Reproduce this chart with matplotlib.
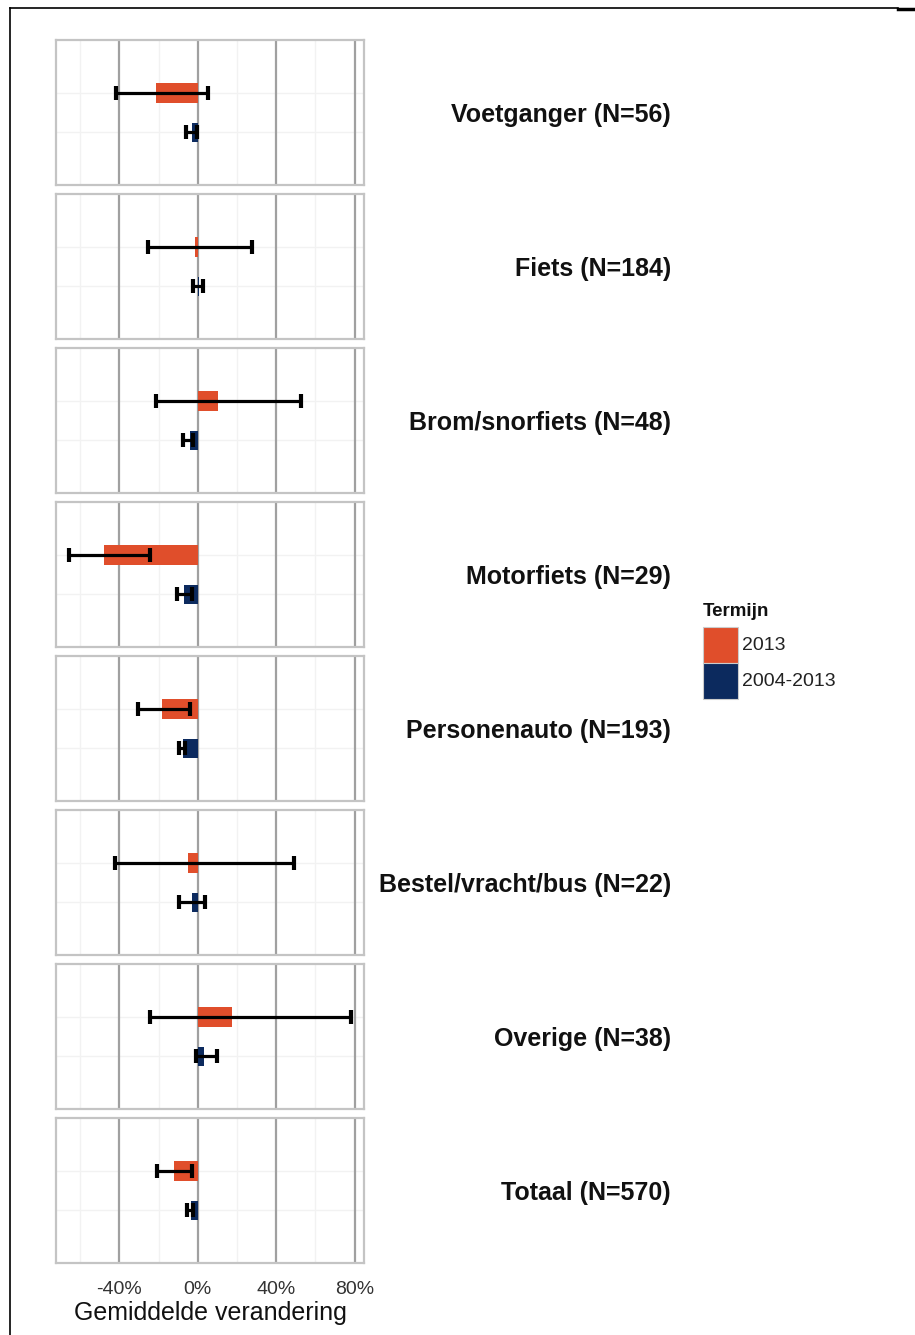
import matplotlib.pyplot as plt
from matplotlib.lines import Line2D
from matplotlib.patches import Rectangle

# data (percent change)
categories = ['Voetganger (N=56)', 'Fiets (N=184)', 'Brom/snorfiets (N=48)',
              'Motorfiets (N=29)', 'Personenauto (N=193)',
              'Bestel/vracht/bus (N=22)', 'Overige (N=38)', 'Totaal (N=570)']
terms = ['2013', '2004-2013']
mean_2013 = [-21.3, -1.2, 10.3, -47.8, -18.0, -5.1, 17.3, -12.3]
lo_2013 = [-41.7, -25.2, -21.3, -65.5, -30.3, -42.3, -24.3, -20.6]
hi_2013 = [5.4, 27.6, 52.9, -24.3, -3.9, 49.3, 78.1, -3.1]
mean_long = [-3.1, 0.4, -4.0, -7.0, -7.3, -3.1, 3.4, -3.6]
lo_long = [-6.1, -2.2, -7.7, -10.7, -9.4, -9.4, -0.9, -5.6]
hi_long = [-0.5, 2.6, -2.2, -3.1, -6.5, 3.7, 9.7, -2.6]
xticks = [-40, 0, 40, 80]
xtick_labels = ['-40%', '0%', '40%', '80%']

colors = ['#E04E2B', '#0C2A5E']

plt.rcParams['font.family'] = ['Liberation Sans', 'DejaVu Sans']

W, H = 915, 1335
fig = plt.figure(figsize=(W / 100, H / 100), dpi=100)

left, right = 56, 364
top0, ph, step = 40, 145, 154

for i, cat in enumerate(categories):
    top = top0 + step * i
    ax = fig.add_axes([left / W, 1 - (top + ph) / H, (right - left) / W, ph / H])
    means = [mean_2013[i], mean_long[i]]
    los = [lo_2013[i], lo_long[i]]
    his = [hi_2013[i], hi_long[i]]
    rows = [0, 1]
    ax.set_xlim(-72.3, 84.8)
    ax.set_ylim(2.33, -1.34)
    # grid
    for v in [-60, -20, 20, 60]:
        ax.axvline(v, color='#F2F2F2', lw=1, zorder=0)
    for r in rows:
        ax.axhline(r, color='#F2F2F2', lw=1, zorder=0)
    for v in xticks:
        ax.axvline(v, color='#A0A0A0', lw=1.6, zorder=0.5)
    ax.barh(rows, means, height=0.5, color=colors, zorder=2)
    ax.errorbar(means, rows,
                xerr=[[m - l for m, l in zip(means, los)],
                      [h - m for m, h in zip(means, his)]],
                fmt='none', ecolor='black', elinewidth=2.3,
                capsize=5, capthick=3, zorder=3)
    ax.set_yticks([])
    ax.set_xticks(xticks)
    ax.tick_params(axis='x', length=0, pad=13, labelsize=14, labelcolor='#333333')
    if i < len(categories) - 1:
        ax.set_xticklabels([])
    else:
        ax.set_xticklabels(xtick_labels)
        ax.set_xlabel('Gemiddelde verandering', fontsize=18, color='#111111', labelpad=2)
    for s in ax.spines.values():
        s.set_color('#C4C4C4')
        s.set_linewidth(1.6)
    ax.text((671 - left) / (right - left), 0.485, cat, transform=ax.transAxes,
            ha='right', va='center', fontsize=18, fontweight='bold', color='#111111')

# legend
fig.text(703 / W, 1 - 611 / H, 'Termijn', fontsize=13.5, fontweight='bold',
         ha='left', va='center', color='#111111')
for k, (t, c) in enumerate(zip(terms, colors)):
    y0 = 627 + 36 * k
    fig.add_artist(Rectangle((703 / W, 1 - (y0 + 36) / H), 35 / W, 36 / H,
                             transform=fig.transFigure, facecolor=c,
                             edgecolor='#CCCCCC', lw=0.8))
    fig.text(742 / W, 1 - (y0 + 18) / H, t, fontsize=14, ha='left', va='center',
             color='#222222')

# outer frame lines
fig.add_artist(Line2D([10 / W, 10 / W], [0, 1 - 8 / H], transform=fig.transFigure,
                      color='black', lw=1.2))
fig.add_artist(Line2D([10 / W, 898 / W], [1 - 8 / H, 1 - 8 / H], transform=fig.transFigure,
                      color='black', lw=1.2))
fig.add_artist(Line2D([898 / W, 1], [1 - 9 / H, 1 - 9 / H], transform=fig.transFigure,
                      color='black', lw=2.5))

fig.savefig('out.png', dpi=100)
